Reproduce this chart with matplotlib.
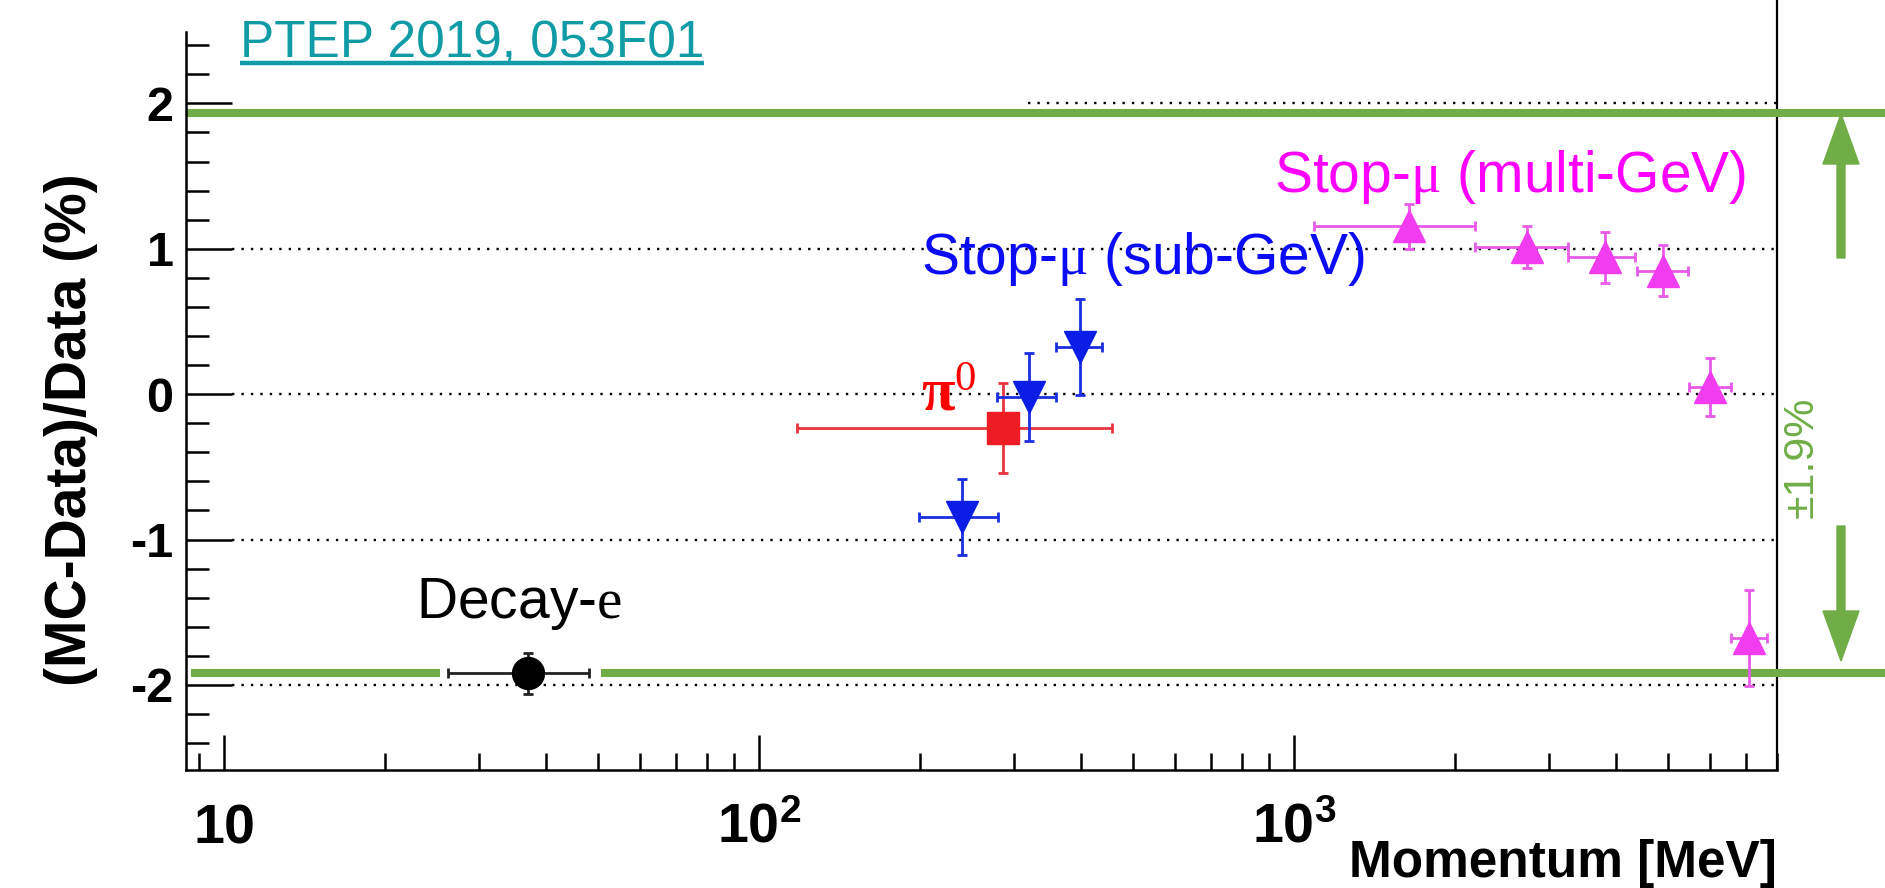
import matplotlib
matplotlib.use('Agg')
import matplotlib.pyplot as plt
import numpy as np
from matplotlib.patches import FancyArrow
from matplotlib.transforms import IdentityTransform, blended_transform_factory
from matplotlib.lines import Line2D
from matplotlib.ticker import NullFormatter

plt.rcParams['font.family'] = ['Liberation Sans', 'DejaVu Sans']
plt.rcParams['mathtext.fontset'] = 'custom'
plt.rcParams['mathtext.rm'] = 'Liberation Serif'
plt.rcParams['mathtext.it'] = 'Liberation Serif:italic'
plt.rcParams['mathtext.bf'] = 'Liberation Sans:bold'
plt.rcParams['mathtext.sf'] = 'Liberation Serif:bold'

# ---------------- data ----------------
decay_x = [37.0]
decay_xlo = [26.2]
decay_xhi = [48.2]
decay_y = [-1.92]
decay_yerr = [0.14]

pi0_x = [286.0]
pi0_xlo = [118.0]
pi0_xhi = [457.0]
pi0_y = [-0.23]
pi0_yerr = [0.31]

sub_x = [240.0, 320.0, 398.0]
sub_xlo = [199.0, 279.0, 359.0]
sub_xhi = [280.0, 359.0, 438.0]
sub_y = [-0.845, -0.02, 0.325]
sub_yerr = [0.26, 0.30, 0.33]

multi_x = [1642.0, 2729.0, 3817.0, 4898.0, 5996.0, 7094.0]
multi_xlo = [1091.0, 2182.0, 3254.0, 4380.0, 5475.0, 6565.0]
multi_xhi = [2182.0, 3254.0, 4343.0, 5455.0, 6565.0, 7665.0]
multi_y = [1.155, 1.013, 0.94, 0.85, 0.048, -1.676]
multi_yerr = [0.155, 0.145, 0.175, 0.175, 0.20, 0.33]

band_hi = 1.935
band_lo = -1.92

ytick_vals = [-2, -1, 0, 1, 2]
ytick_labels = ['-2', '-1', '0', '1', '2']
xtick_vals = [10, 100, 1000]
xtick_labels = [r'$\mathbf{10}$', r'$\mathbf{10^{2}}$', r'$\mathbf{10^{3}}$']
grid_vals = [1, 0, -1, -2]

GREEN = '#70ad47'
TEAL = '#109ba6'

W, H = 1885, 888
fig = plt.figure(figsize=(W / 100, H / 100), dpi=100)
ax = fig.add_axes([186 / W, 118 / H, 1591 / W, 738 / H])
ax.set_xscale('log')
ax.set_xlim(8.5, 8000)
ax.set_ylim(-2.585, 2.4907)

for s in ['top', 'right']:
    ax.spines[s].set_visible(False)
for s in ['left', 'bottom']:
    ax.spines[s].set_linewidth(1.8)
ax.plot([1, 1], [0, 770 / 738], transform=ax.transAxes, color='k', lw=1.6,
        clip_on=False, solid_capstyle='butt')

# ticks
ax.set_yticks(ytick_vals, ytick_labels)
ax.set_yticks(np.arange(-2.4, 2.41, 0.2), minor=True)
ax.set_xticks(xtick_vals, xtick_labels)
ax.xaxis.set_minor_formatter(NullFormatter())
ax.tick_params(axis='y', which='major', direction='in', length=33, width=1.8,
               labelsize=35, pad=9)
ax.tick_params(axis='y', which='minor', direction='in', length=16.5, width=1.8)
ax.tick_params(axis='x', which='major', direction='in', length=25, width=1.8,
               labelsize=40, pad=52)
ax.tick_params(axis='x', which='minor', direction='in', length=12.5, width=1.8)
for lbl in ax.get_yticklabels():
    lbl.set_fontweight('bold')
for lbl in ax.get_xticklabels():
    lbl.set_fontweight('bold')
    lbl.set_verticalalignment('baseline')

# dotted grid lines
for gv in grid_vals:
    ax.axhline(gv, xmin=0.029, xmax=1, color='k', lw=1.7, ls=(0, (1, 3)), zorder=1)
ax.axhline(2, xmin=0.529, xmax=1, color='k', lw=1.7, ls=(0, (1, 3)), zorder=1)

# green band lines (extend to figure edge)
trans = blended_transform_factory(fig.transFigure, ax.transData)
for xs, yv in [([186 / W, 1.0], band_hi), ([191 / W, 440 / W], band_lo), ([601 / W, 1.0], band_lo)]:
    ax.add_line(Line2D(xs, [yv, yv], transform=trans, color=GREEN, lw=5.8,
                       clip_on=False, solid_capstyle='butt', zorder=2))

def xerr(x, lo, hi):
    return [np.array(x) - np.array(lo), np.array(hi) - np.array(x)]

eb = dict(elinewidth=2.0, capsize=3.8, capthick=2.0)
ax.errorbar(decay_x, decay_y, xerr=xerr(decay_x, decay_xlo, decay_xhi), yerr=decay_yerr,
            fmt='o', color='k', ms=23, mec='k', ecolor='#222222', zorder=5, **eb)
ax.errorbar(pi0_x, pi0_y, xerr=xerr(pi0_x, pi0_xlo, pi0_xhi), yerr=pi0_yerr,
            fmt='s', color='#ee1c24', mec='#ee1c24', ecolor='#e8343c', ms=23.5, zorder=5, **eb)
ax.errorbar(sub_x, sub_y, xerr=xerr(sub_x, sub_xlo, sub_xhi), yerr=sub_yerr,
            fmt='v', color='#0a1ee6', mec='#0a1ee6', ecolor='#1a2ee0', ms=23, zorder=6, **eb)
ax.errorbar(multi_x, multi_y, xerr=xerr(multi_x, multi_xlo, multi_xhi), yerr=multi_yerr,
            fmt='^', color='#f23cf0', mec='#f23cf0', ecolor='#e85ae8', ms=23, zorder=5, **eb)

# annotations
ax.text(22.9, -1.54, r'Decay-$\mathrm{e}$', fontsize=41, color='k', ha='left', va='baseline')
ax.text(201, 0.825, r'Stop-$\mathrm{\mu}$ (sub-GeV)', fontsize=41, color='#0b0bf5',
        ha='left', va='baseline')
ax.text(917.6, 1.39, r'Stop-$\mathrm{\mu}$ (multi-GeV)', fontsize=41, color='#ff00ff',
        ha='left', va='baseline')
ax.text(201, -0.11, r'$\mathsf{\pi}^{\mathrm{0}}$', fontsize=44, color='#ff0000',
        ha='left', va='baseline')

ax.set_ylabel('(MC-Data)/Data (%)', fontsize=41, fontweight='bold')
ax.yaxis.set_label_coords((98 - 186) / 1591, (770 - 430) / 738)
ax.set_xlabel('Momentum [MeV]', fontsize=37, fontweight='bold', loc='right')
ax.xaxis.set_label_coords(1.0, (770 - 839) / 738)

# +-1.9% label and arrows
fig.text(1802 / W, (H - 457) / H, '±1.9%', rotation=90, fontsize=31, color=GREEN,
         ha='center', va='center')
idt = IdentityTransform()
fig.add_artist(FancyArrow(1841, H - 258, 0, 258 - 114, width=8, head_width=36, head_length=50,
                          length_includes_head=True, color=GREEN, transform=idt))
fig.add_artist(FancyArrow(1841, H - 526, 0, -(661 - 526), width=8, head_width=36, head_length=50,
                          length_includes_head=True, color=GREEN, transform=idt))

# reference link (underlined)
ref = fig.text(240 / W, (H - 58) / H, 'PTEP 2019, 053F01', fontsize=37, color=TEAL,
               ha='left', va='baseline')
fig.canvas.draw()
bb = ref.get_window_extent()
fig.add_artist(Line2D([bb.x0 / W, bb.x1 / W], [(H - 63) / H] * 2, transform=fig.transFigure,
                      color=TEAL, lw=3.2, solid_capstyle='butt'))

fig.savefig('out.png', dpi=100)
